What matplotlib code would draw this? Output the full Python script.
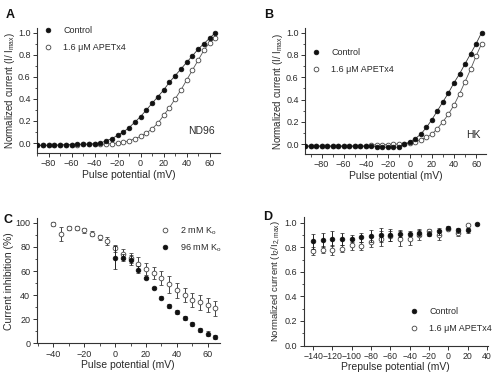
import matplotlib
matplotlib.use('Agg')
import matplotlib.pyplot as plt
from matplotlib.ticker import MultipleLocator
from matplotlib.lines import Line2D

plt.rcParams['font.family'] = ['Liberation Sans', 'DejaVu Sans']
plt.rcParams['mathtext.fontset'] = 'custom'
plt.rcParams['mathtext.rm'] = 'Liberation Sans'
plt.rcParams['mathtext.it'] = 'Liberation Sans'

TXT = '#2a2a2a'

# ---------------- Panel A (ND96) ----------------
a_volt = [-90, -85, -80, -75, -70, -65, -60, -55, -50, -45, -40, -35, -30, -25, -20, -15,
          -10, -5, 0, 5, 10, 15, 20, 25, 30, 35, 40, 45, 50, 55, 60, 65]
a_ctrl = [-0.02, -0.02, -0.02, -0.02, -0.015, -0.015, -0.015, -0.01, -0.01, -0.01, -0.005, 0.0,
          0.02, 0.04, 0.07, 0.10, 0.14, 0.19, 0.24, 0.30, 0.36, 0.42, 0.48, 0.55, 0.61, 0.67,
          0.73, 0.79, 0.85, 0.90, 0.95, 1.00]
a_apetx = [-0.02, -0.02, -0.02, -0.02, -0.02, -0.015, -0.015, -0.015, -0.01, -0.01, -0.01, -0.01,
           -0.01, -0.005, 0.0, 0.01, 0.02, 0.04, 0.06, 0.09, 0.13, 0.18, 0.25, 0.32, 0.40, 0.48,
           0.57, 0.66, 0.75, 0.84, 0.91, 0.95]

# ---------------- Panel B (HK) ----------------
b_volt = [-95, -90, -85, -80, -75, -70, -65, -60, -55, -50, -45, -40, -35, -30, -25, -20, -15,
          -10, -5, 0, 5, 10, 15, 20, 25, 30, 35, 40, 45, 50, 55, 60, 65]
b_ctrl = [-0.02, -0.02, -0.02, -0.02, -0.02, -0.02, -0.02, -0.02, -0.02, -0.02, -0.02, -0.02,
          -0.02, -0.025, -0.025, -0.03, -0.03, -0.025, 0.0, 0.02, 0.05, 0.09, 0.15, 0.22, 0.30,
          0.38, 0.46, 0.55, 0.63, 0.72, 0.81, 0.90, 1.00]
b_apetx = [-0.015, -0.015, -0.015, -0.015, -0.015, -0.015, -0.015, -0.015, -0.015, -0.015, -0.015,
           -0.015, -0.01, -0.005, -0.005, -0.005, 0.0, 0.0, 0.0, 0.01, 0.02, 0.04, 0.06, 0.09,
           0.14, 0.20, 0.27, 0.35, 0.45, 0.56, 0.67, 0.79, 0.90]

# ---------------- Panel C (inhibition) ----------------
c_volt_2k = [-40, -35, -30, -25, -20, -15, -10, -5, 0, 5, 10, 15, 20, 25, 30, 35, 40, 45, 50, 55, 60, 65]
c_inh_2k = [99, 91, 96, 96, 94, 91, 88, 85, 79, 74, 71, 66, 62, 58, 54, 49, 44, 40, 36, 34, 32, 29]
c_err_2k = [1.5, 6, 1.5, 1.5, 2, 2, 2, 3, 3, 4, 4, 6, 5, 5, 6, 7, 6, 6, 6, 6, 6, 6]
c_volt_96k = [0, 5, 10, 15, 20, 25, 30, 35, 40, 45, 50, 55, 60, 65]
c_inh_96k = [71, 71, 69, 61, 54, 46, 38, 31, 26, 21, 16, 11, 8, 5]
c_err_96k = [9.5, 3, 4, 3, 1, 1, 1, 2, 2, 2, 2, 2, 2, 1.5]

# ---------------- Panel D (inactivation) ----------------
d_volt_ctrl = [-140, -130, -120, -110, -100, -90, -80, -70, -60, -50, -40, -30, -20, -10, 0, 10, 20, 30]
d_ctrl = [0.85, 0.86, 0.87, 0.87, 0.87, 0.88, 0.89, 0.90, 0.90, 0.91, 0.91, 0.92, 0.91, 0.93,
          0.96, 0.94, 0.94, 0.99]
d_ctrl_err = [0.06, 0.06, 0.06, 0.05, 0.03, 0.04, 0.05, 0.06, 0.05, 0.03, 0.02, 0.03, 0.02, 0.03,
              0.01, 0.02, 0.02, 0.01]
d_volt_apetx = [-140, -130, -120, -110, -100, -90, -80, -70, -60, -50, -40, -30, -20, -10, 0, 10, 20]
d_apetx = [0.77, 0.78, 0.78, 0.79, 0.82, 0.81, 0.84, 0.87, 0.89, 0.87, 0.87, 0.90, 0.93, 0.90,
           0.95, 0.92, 0.98]
d_apetx_err = [0.03, 0.03, 0.04, 0.03, 0.04, 0.03, 0.04, 0.06, 0.04, 0.06, 0.05, 0.04, 0.02, 0.04,
               0.01, 0.03, 0.01]

fig = plt.figure(figsize=(5.0, 3.76), dpi=100)


def style(ax):
    for s in ('top', 'right'):
        ax.spines[s].set_visible(False)
    for s in ('left', 'bottom'):
        ax.spines[s].set_color('#333333')
        ax.spines[s].set_linewidth(0.8)
    ax.tick_params(which='major', direction='out', length=3, width=0.7, colors='#333333',
                   labelsize=6.5, labelcolor=TXT, pad=1.5)
    ax.tick_params(which='minor', direction='out', length=1.8, width=0.6, colors='#333333')


filled = dict(marker='o', ms=3.4, mfc='#111111', mec='#111111', mew=0.5)
opened = dict(marker='o', ms=3.4, mfc='white', mec='#444444', mew=0.6)


def handles(labels_styles):
    return [Line2D([], [], ls='none', label=l, **s) for l, s in labels_styles]


def legend(ax, hs, anchor, spacing):
    ax.legend(handles=hs, loc='upper left', bbox_to_anchor=anchor, frameon=False, fontsize=6.5,
              handlelength=0.8, handletextpad=1.3, labelspacing=spacing, labelcolor=TXT,
              borderaxespad=0, borderpad=0)


yt = [0.0, 0.2, 0.4, 0.6, 0.8, 1.0]
ytl = ['0.0', '0.2', '0.4', '0.6', '0.8', '1.0']

# ---- A ----
axA = fig.add_axes([0.074, 0.593, 0.366, 0.332])
axA.plot(a_volt, a_ctrl, color='#333333', lw=0.6, ls='-', **filled, zorder=3)
axA.plot(a_volt, a_apetx, color='#555555', lw=0.6, ls='-', **opened, zorder=2)
axA.set_xlim(-90, 69)
axA.set_ylim(-0.09, 1.04)
axA.xaxis.set_major_locator(MultipleLocator(20))
axA.xaxis.set_minor_locator(MultipleLocator(10))
axA.set_yticks(yt)
axA.set_yticklabels(ytl)
axA.yaxis.set_minor_locator(MultipleLocator(0.1))
style(axA)
axA.set_xlabel('Pulse potential (mV)', fontsize=7.5, color=TXT, labelpad=1)
axA.set_ylabel('Normalized current (I/ I$_{\\rm max}$)', fontsize=7, color=TXT, labelpad=1)
legend(axA, handles([('Control', filled), ('1.6 \u03bcM APETx4', opened)]), (0.04, 1.02), 0.9)
axA.text(0.97, 0.18, 'ND96', transform=axA.transAxes, ha='right', va='center', fontsize=7.5,
         color=TXT)

# ---- B ----
axB = fig.add_axes([0.61, 0.590, 0.362, 0.335])
axB.plot(b_volt, b_ctrl, color='#333333', lw=0.6, ls='-', **filled, zorder=3)
axB.plot(b_volt, b_apetx, color='#555555', lw=0.6, ls='-', **opened, zorder=2)
axB.set_xlim(-95, 69)
axB.set_ylim(-0.09, 1.04)
axB.xaxis.set_major_locator(MultipleLocator(20))
axB.xaxis.set_minor_locator(MultipleLocator(10))
axB.set_yticks(yt)
axB.set_yticklabels(ytl)
axB.yaxis.set_minor_locator(MultipleLocator(0.1))
style(axB)
axB.set_xlabel('Pulse potential (mV)', fontsize=7.5, color=TXT, labelpad=1)
axB.set_ylabel('Normalized current (I/ I$_{\\rm max}$)', fontsize=7, color=TXT, labelpad=1)
legend(axB, handles([('Control', filled), ('1.6 \u03bcM APETx4', opened)]), (0.04, 0.84), 0.9)
axB.text(0.97, 0.15, 'HK', transform=axB.transAxes, ha='right', va='center', fontsize=7.5,
         color=TXT)

# ---- C ----
axC = fig.add_axes([0.073, 0.087, 0.367, 0.333])
axC.errorbar(c_volt_2k, c_inh_2k, yerr=c_err_2k, fmt='o', ms=3.4, mfc='white', mec='#444444',
             mew=0.6, ecolor='#444444', elinewidth=0.7, capsize=1.6, capthick=0.7, zorder=2)
axC.errorbar(c_volt_96k, c_inh_96k, yerr=c_err_96k, fmt='o', ms=3.4, mfc='#111111',
             mec='#111111', mew=0.5, ecolor='#222222', elinewidth=0.7, capsize=1.6,
             capthick=0.7, zorder=3)
axC.set_xlim(-51, 68)
axC.set_ylim(0, 104)
axC.xaxis.set_major_locator(MultipleLocator(20))
axC.xaxis.set_minor_locator(MultipleLocator(10))
axC.yaxis.set_major_locator(MultipleLocator(20))
axC.yaxis.set_minor_locator(MultipleLocator(10))
style(axC)
axC.set_xlabel('Pulse potential (mV)', fontsize=7.5, color=TXT, labelpad=1)
axC.set_ylabel('Current inhibition (%)', fontsize=7.5, color=TXT, labelpad=1)
legend(axC, handles([('2 mM K$_{\\rm o}$', opened), ('96 mM K$_{\\rm o}$', filled)]),
       (0.68, 0.94), 0.6)

# ---- D ----
axD = fig.add_axes([0.607, 0.081, 0.369, 0.343])
axD.errorbar(d_volt_ctrl, d_ctrl, yerr=d_ctrl_err, fmt='o', ms=3.4, mfc='#111111',
             mec='#111111', mew=0.5, ecolor='#222222', elinewidth=0.7, capsize=1.6,
             capthick=0.7, zorder=3)
axD.errorbar(d_volt_apetx, d_apetx, yerr=d_apetx_err, fmt='o', ms=3.4, mfc='white',
             mec='#444444', mew=0.6, ecolor='#444444', elinewidth=0.7, capsize=1.6,
             capthick=0.7, zorder=2)
axD.set_xlim(-150, 41)
axD.set_ylim(0, 1.05)
axD.xaxis.set_major_locator(MultipleLocator(20))
axD.set_yticks(yt)
axD.set_yticklabels(ytl)
axD.yaxis.set_minor_locator(MultipleLocator(0.1))
style(axD)
axD.tick_params(axis='x', which='major', labelsize=6.3, pad=1.5)
axD.set_xlabel('Prepulse potential (mV)', fontsize=7.5, color=TXT, labelpad=1)
axD.set_ylabel('Normalized current (I$_2$/I$_{2,\\rm max}$)', fontsize=6.8, color=TXT, labelpad=1)
legend(axD, handles([('Control', filled), ('1.6 \u03bcM APETx4', opened)]), (0.58, 0.30), 0.9)

# panel letters
for lab, x, y in [('A', 0.012, 0.975), ('B', 0.528, 0.975), ('C', 0.008, 0.43), ('D', 0.527, 0.44)]:
    fig.text(x, y, lab, fontsize=9, fontweight='bold', color='#111111', ha='left', va='top')

fig.savefig('out.png', dpi=100)
